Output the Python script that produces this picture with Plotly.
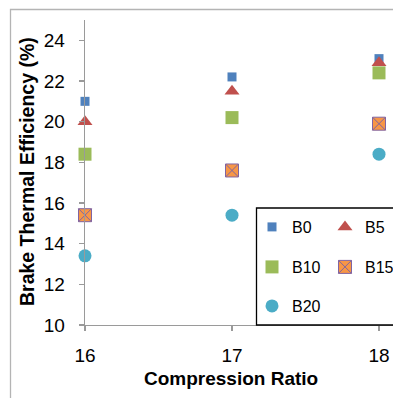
import plotly.graph_objects as go

# ---- data ----
compression_ratio = [16, 17, 18]
series_names = ["B0", "B5", "B10", "B15", "B20"]
b0 = [21.0, 22.2, 23.1]
b5 = [20.0, 21.5, 22.9]
b10 = [18.4, 20.2, 22.4]
b15 = [15.4, 17.6, 19.9]
b20 = [13.4, 15.4, 18.4]
y_tick_vals = [10, 12, 14, 16, 18, 20, 22, 24]
x_tick_vals = [16, 17, 18]

series_values = [b0, b5, b10, b15, b20]

# ---- layout geometry (page pixels; body margin removed by post_script) ----
W, H = 393, 398
PLOT_LEFT, PLOT_TOP, PLOT_BOTTOM = 85, 20, 325
L = PLOT_LEFT
T = PLOT_TOP
B = H - PLOT_BOTTOM
R = 0
pw, ph = W - L - R, H - T - B

def px_x(p):
    return (p - L) / pw

def px_y(p):
    return (H - B - p) / ph

styles = [
    dict(symbol="square", size=9, color="#4F81BD", line=dict(width=0)),
    dict(symbol="triangle-up", size=13, color="#C0504D", line=dict(width=0)),
    dict(symbol="square", size=13, color="#9BBB59", line=dict(width=0)),
    dict(symbol="square-x", size=13, color="#F79646", line=dict(width=1, color="#8064A2")),
    dict(symbol="circle", size=13, color="#4BACC6", line=dict(width=0)),
]
legend_ids = ["legend", "legend2", "legend3", "legend4", "legend5"]
legend_pos = [(252, 227), (325, 227), (252, 267), (325, 267), (252, 306)]

fig = go.Figure()
for name, vals, st, lid in zip(series_names, series_values, styles, legend_ids):
    fig.add_trace(go.Scatter(
        x=compression_ratio, y=vals, mode="markers", name=name,
        marker=st, legend=lid, cliponaxis=False,
    ))

font_family = "Liberation Sans, Arial, sans-serif"
legend_layouts = {}
for lid, (lx, ly) in zip(legend_ids, legend_pos):
    legend_layouts[lid] = dict(
        x=px_x(lx), y=px_y(ly), xanchor="left", yanchor="middle",
        bgcolor="rgba(0,0,0,0)", borderwidth=0,
        font=dict(family=font_family, size=16, color="#000000"),
        itemclick=False, itemdoubleclick=False,
    )

axis_color = "#9a9a9a"
fig.update_layout(
    width=W, height=H,
    margin=dict(l=L, r=R, t=T, b=B, pad=0, autoexpand=False),
    paper_bgcolor="white", plot_bgcolor="white",
    showlegend=True,
    font=dict(family=font_family, color="#000000"),
    xaxis=dict(
        range=[16, 16 + pw / 147.0], tickvals=x_tick_vals,
        showgrid=False, zeroline=False,
        showline=True, linecolor=axis_color, linewidth=1.3,
        ticks="outside", ticklen=5, tickcolor=axis_color, tickwidth=1.3,
        tickfont=dict(size=19, color="#000000"), ticklabelstandoff=8,
    ),
    yaxis=dict(
        range=[10, 25], tickvals=y_tick_vals,
        showgrid=False, zeroline=False,
        showline=True, linecolor=axis_color, linewidth=1.3,
        ticks="outside", ticklen=5, tickcolor=axis_color, tickwidth=1.3,
        tickfont=dict(size=19, color="#000000"), ticklabelstandoff=10,
    ),
    annotations=[
        dict(text="<b>Compression Ratio</b>", xref="paper", yref="paper",
             x=px_x(231), y=px_y(378), xanchor="center", yanchor="middle",
             showarrow=False, font=dict(size=19, color="#000000")),
        dict(text="<b>Brake Thermal Efficiency (%)</b>", xref="paper", yref="paper",
             x=px_x(27), y=px_y(172), xanchor="center", yanchor="middle",
             textangle=-90, showarrow=False, font=dict(size=19.5, color="#000000")),
    ],
    shapes=[
        # outer chart frame (cropped on right and bottom)
        dict(type="rect", xref="paper", yref="paper",
             x0=px_x(10.5), x1=px_x(420), y0=px_y(420), y1=px_y(9.5),
             line=dict(color="#b4b4b4", width=1.3), fillcolor="rgba(0,0,0,0)", layer="below"),
        # legend box (cropped on right)
        dict(type="rect", xref="paper", yref="paper",
             x0=px_x(256.5), x1=px_x(420), y0=px_y(325), y1=px_y(208),
             line=dict(color="#000000", width=1.3), fillcolor="rgba(0,0,0,0)", layer="above"),
    ],
    **legend_layouts,
)

fig.write_html(
    "out.html",
    config={"displayModeBar": False, "staticPlot": True},
    post_script="document.body.style.margin='0';document.body.style.overflow='hidden';",
)
